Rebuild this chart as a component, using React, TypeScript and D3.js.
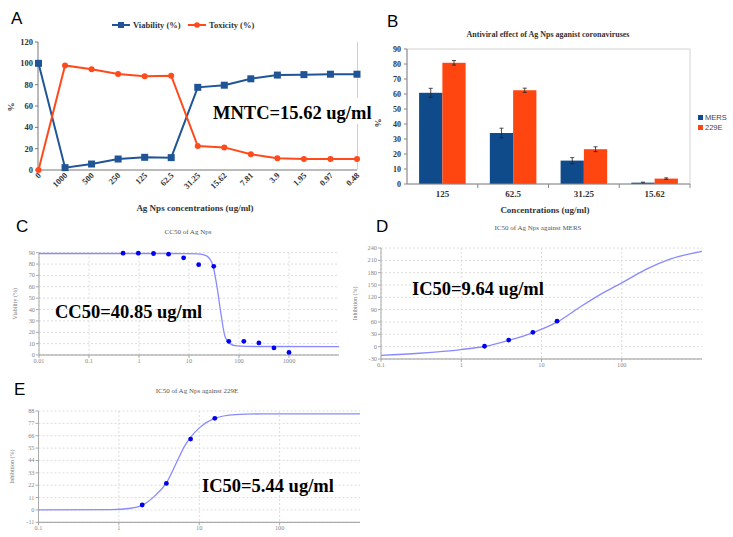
import * as d3 from "d3";
import React from "react";

// Panel A: cytotoxicity of Ag Nps
const concA = ["0", "1000", "500", "250", "125", "62.5", "31.25", "15.62", "7.81", "3.9", "1.95", "0.97", "0.48"];
const viability = [100, 2.2, 5.6, 10.3, 11.9, 11.6, 77.5, 79.5, 85.5, 89, 89.4, 89.8, 89.8];
const toxicity = [0, 98, 94.4, 90, 88, 88.4, 22.5, 21.2, 14.7, 11, 10.4, 10.3, 10.3];
const ticksA = [0, 20, 40, 60, 80, 100, 120];

// Panel B: antiviral effect
const catsB = ["125", "62.5", "31.25", "15.62"];
const seriesB = ["MERS", "229E"];
const mers = [60.8, 34, 15.6, 0.9];
const mersErr = [3, 3.2, 2, 0.3];
const hcov = [80.8, 62.5, 23.2, 3.6];
const hcovErr = [1.5, 1.4, 1.6, 0.5];
const ticksB = [0, 10, 20, 30, 40, 50, 60, 70, 80, 90];

// Panel C: CC50
const concC = [0.48, 0.97, 1.95, 3.9, 7.81, 15.62, 31.25, 62.5, 125, 250, 500, 1000];
const viabC = [89.6, 89.6, 89.3, 88.7, 85.5, 79.5, 78, 12, 12, 10.6, 6.2, 2.3];
const fitCx = [0.01, 1, 10, 15, 22, 26, 30, 36, 43, 52, 66, 90, 200, 10000];
const fitCy = [89.3, 89.3, 89.2, 89, 87.5, 84.5, 79, 61, 38, 17, 10, 8, 7.5, 7.4];
const ticksCy = [0, 10, 20, 30, 40, 50, 60, 70, 80, 90];
const ticksCx = [0.01, 0.1, 1, 10, 100, 1000];

// Panel D: IC50 against MERS
const concD = [1.95, 3.9, 7.81, 15.62];
const inhD = [1, 16, 35, 62];
const fitDx = [0.1, 0.3, 1, 2, 4, 8, 16, 30, 60, 100, 200, 400, 1000];
const fitDy = [-21, -16, -7, 1, 16, 35, 61, 96, 132, 155, 188, 213, 232];
const ticksDy = [-30, 0, 30, 60, 90, 120, 150, 180, 210, 240];
const ticksDx = [0.1, 1, 10, 100];

// Panel E: IC50 against 229E
const concE = [1.95, 3.9, 7.81, 15.62];
const inhE = [4.4, 23.6, 63, 81.5];
const fitEx = [0.1, 0.8, 1.4, 2, 2.8, 3.9, 5.2, 6.6, 7.8, 10, 15, 28, 60, 1000];
const fitEy = [0, 0.3, 1.5, 4.5, 12.5, 24, 42, 57, 64.5, 73, 81, 84.8, 85.4, 85.5];
const ticksEy = [-11, 0, 11, 22, 33, 44, 55, 66, 77, 88];
const ticksEx = [0.1, 1, 10, 100];

const serif = "'Liberation Serif', 'Times New Roman', serif";
const sans = "'Liberation Sans', Arial, sans-serif";
const blueA = "#1f5596";
const redA = "#ff4a1c";

const PanelA = () => {
  const x = d3.scalePoint<string>().domain(concA).range([38.5, 357]);
  const y = d3.scaleLinear().domain([0, 120]).range([170, 42]);
  const line = d3
    .line<number>()
    .x((_, i) => x(concA[i])!)
    .y((d) => y(d));
  return (
    <g>
      <text x={11} y={24} fontFamily={sans} fontSize={17}>A</text>
      {/* legend */}
      <line x1={112} x2={130} y1={25} y2={25} stroke={blueA} strokeWidth={2} />
      <rect x={118} y={22} width={6} height={6} fill={blueA} />
      <text x={133} y={28} fontFamily={serif} fontWeight="bold" fontSize={8.5} fill="#333">Viability (%)</text>
      <line x1={188} x2={206} y1={25} y2={25} stroke={redA} strokeWidth={2} />
      <circle cx={197} cy={25} r={2.8} fill={redA} />
      <text x={209} y={28} fontFamily={serif} fontWeight="bold" fontSize={8.5} fill="#333">Toxicity (%)</text>

      <line x1={357.5} x2={357.5} y1={42} y2={170} stroke="#d0d0d0" />
      {ticksA.map((t) => (
        <g key={t}>
          <line x1={35} x2={38} y1={y(t)} y2={y(t)} stroke="#777" />
          <text x={33} y={y(t) + 3} textAnchor="end" fontFamily={serif} fontWeight="bold" fontSize={8.5} fill="#333">{t}</text>
        </g>
      ))}
      <line x1={38} x2={38} y1={42} y2={170} stroke="#777" />
      <line x1={38} x2={357} y1={170} y2={170} stroke="#777" />
      {concA.map((c) => (
        <text key={c} transform={`translate(${x(c)! + 3},${176}) rotate(-45)`} textAnchor="end" fontFamily={serif} fontWeight="bold" fontSize={8.5} fill="#333">{c}</text>
      ))}
      <path d={line(viability)!} fill="none" stroke={blueA} strokeWidth={2} />
      <path d={line(toxicity)!} fill="none" stroke={redA} strokeWidth={2} />
      {viability.map((v, i) => (
        <rect key={i} x={x(concA[i])! - 3.5} y={y(v) - 3.5} width={7} height={7} fill={blueA} />
      ))}
      {toxicity.map((v, i) => (
        <circle key={i} cx={x(concA[i])!} cy={y(v)} r={3} fill={redA} />
      ))}
      <text x={195} y={211} textAnchor="middle" fontFamily={serif} fontWeight="bold" fontSize={9} fill="#333">Ag Nps concentrations (ug/ml)</text>
      <text transform="translate(14,107) rotate(-90)" textAnchor="middle" fontFamily={serif} fontWeight="bold" fontSize={9} fill="#333">%</text>
      <rect x={211} y={98} width={148} height={26} fill="#fff" />
      <text x={213} y={119} fontFamily={serif} fontWeight="bold" fontSize={18.5} fill="#000">MNTC=15.62 ug/ml</text>
    </g>
  );
};

const PanelB = () => {
  const x0 = d3.scaleBand<string>().domain(catsB).range([407, 690]);
  const x1 = d3.scaleBand<string>().domain(seriesB).range([0, x0.bandwidth()]).paddingOuter(0.52);
  const y = d3.scaleLinear().domain([0, 90]).range([184, 49]);
  const colors: Record<string, string> = { MERS: "#0f4a8a", "229E": "#ff4610" };
  const vals: Record<string, number[]> = { MERS: mers, "229E": hcov };
  const errs: Record<string, number[]> = { MERS: mersErr, "229E": hcovErr };
  return (
    <g>
      <text x={387} y={27} fontFamily={sans} fontSize={17}>B</text>
      <text x={548} y={37} textAnchor="middle" fontFamily={serif} fontWeight="bold" fontSize={8} fill="#333">Antiviral effect of Ag Nps aganist coronaviruses</text>
      <rect x={407} y={49} width={283} height={135} fill="none" stroke="#d4d4d4" />
      {ticksB.map((t) => (
        <g key={t}>
          <line x1={404} x2={407} y1={y(t)} y2={y(t)} stroke="#888" />
          <text x={401} y={y(t) + 3} textAnchor="end" fontFamily={serif} fontWeight="bold" fontSize={8} fill="#333">{t}</text>
        </g>
      ))}
      {seriesB.map((s) =>
        catsB.map((c, i) => {
          const bx = x0(c)! + x1(s)!;
          const v = vals[s][i];
          const e = errs[s][i];
          const cx = bx + x1.bandwidth() / 2;
          return (
            <g key={s + c}>
              <rect x={bx} y={y(v)} width={x1.bandwidth()} height={y(0) - y(v)} fill={colors[s]} />
              <line x1={cx} x2={cx} y1={y(v + e)} y2={y(v - e)} stroke="#222" strokeWidth={0.8} />
              <line x1={cx - 2} x2={cx + 2} y1={y(v + e)} y2={y(v + e)} stroke="#222" strokeWidth={0.8} />
              <line x1={cx - 2} x2={cx + 2} y1={y(v - e)} y2={y(v - e)} stroke="#222" strokeWidth={0.8} />
            </g>
          );
        })
      )}
      <line x1={407} x2={407} y1={49} y2={184} stroke="#888" />
      <line x1={407} x2={690} y1={184} y2={184} stroke="#888" />
      {catsB.map((c) => (
        <g key={c}>
          <line x1={x0(c)! + x0.bandwidth()} x2={x0(c)! + x0.bandwidth()} y1={184} y2={188} stroke="#888" />
          <text x={x0(c)! + x0.bandwidth() / 2} y={197} textAnchor="middle" fontFamily={serif} fontWeight="bold" fontSize={9} fill="#333">{c}</text>
        </g>
      ))}
      <text x={545} y={213} textAnchor="middle" fontFamily={serif} fontWeight="bold" fontSize={9} fill="#333">Concentrations (ug/ml)</text>
      <text transform="translate(381,123) rotate(-90)" textAnchor="middle" fontFamily={serif} fontWeight="bold" fontSize={9} fill="#333">%</text>
      {seriesB.map((s, i) => (
        <g key={s}>
          <rect x={698} y={115 + i * 10} width={5} height={5} fill={colors[s]} />
          <text x={705} y={120 + i * 10} fontFamily={sans} fontSize={7.5} fill="#444">{s}</text>
        </g>
      ))}
    </g>
  );
};

type LogProps = {
  label: string;
  labelX: number;
  labelY: number;
  title: string;
  titleX: number;
  titleY: number;
  yLabel: string;
  yLabelX: number;
  left: number;
  right: number;
  top: number;
  bottom: number;
  xDomain: [number, number];
  yDomain: [number, number];
  xTicks: number[];
  yTicks: number[];
  px: number[];
  py: number[];
  fx: number[];
  fy: number[];
  note: string;
  noteX: number;
  noteY: number;
};

const LogPanel = (p: LogProps) => {
  const x = d3.scaleLog().domain(p.xDomain).range([p.left, p.right]);
  const y = d3.scaleLinear().domain(p.yDomain).range([p.bottom, p.top]);
  const line = d3
    .line<number>()
    .x((_, i) => x(p.fx[i]))
    .y((d) => y(d))
    .curve(d3.curveMonotoneX);
  return (
    <g>
      <text x={p.labelX} y={p.labelY} fontFamily={sans} fontSize={17}>{p.label}</text>
      <text x={p.titleX} y={p.titleY} textAnchor="middle" fontFamily={serif} fontSize={7} fill="#555">{p.title}</text>
      {p.yTicks.map((t) => (
        <g key={t}>
          <line x1={p.left} x2={p.right} y1={y(t)} y2={y(t)} stroke="#dcdcdc" strokeDasharray="2 2" />
          <line x1={p.left - 3} x2={p.left} y1={y(t)} y2={y(t)} stroke="#aaa" />
          <text x={p.left - 4} y={y(t) + 2} textAnchor="end" fontFamily={serif} fontSize={6.3} fill="#888">{t}</text>
        </g>
      ))}
      {p.xTicks.map((t) => (
        <g key={t}>
          <line x1={x(t)} x2={x(t)} y1={p.top} y2={p.bottom} stroke="#dcdcdc" strokeDasharray="2 2" />
          <line x1={x(t)} x2={x(t)} y1={p.bottom} y2={p.bottom + 3} stroke="#aaa" />
          <text x={x(t)} y={p.bottom + 8} textAnchor="middle" fontFamily={serif} fontSize={6.3} fill="#888">{t}</text>
        </g>
      ))}
      <line x1={p.left} x2={p.left} y1={p.top} y2={p.bottom} stroke="#aaa" />
      <line x1={p.left} x2={p.right} y1={p.bottom} y2={p.bottom} stroke="#999" />
      <text transform={`translate(${p.yLabelX},${(p.top + p.bottom) / 2}) rotate(-90)`} textAnchor="middle" fontFamily={serif} fontSize={6} fill="#777">{p.yLabel}</text>
      <path d={line(p.fy)!} fill="none" stroke="#8a8aff" strokeWidth={1.3} />
      {p.py.map((v, i) => (
        <circle key={i} cx={x(p.px[i])} cy={y(v)} r={2.4} fill="#0000f0" />
      ))}
      <text x={p.noteX} y={p.noteY} fontFamily={serif} fontWeight="bold" fontSize={18.5} fill="#000">{p.note}</text>
    </g>
  );
};

export default function App() {
  return (
    <svg width={733} height={537} style={{ position: "absolute", left: 0, top: 0, background: "#fff" }}>
      <rect width={733} height={537} fill="#fff" />
      <PanelA />
      <PanelB />
      <LogPanel
        label="C" labelX={16} labelY={232}
        title="CC50 of Ag Nps" titleX={188} titleY={234}
        yLabel="Viability (%)" yLabelX={17}
        left={39} right={339} top={252.7} bottom={355}
        xDomain={[0.01, 10000]} yDomain={[0, 90]}
        xTicks={ticksCx} yTicks={ticksCy}
        px={concC} py={viabC} fx={fitCx} fy={fitCy}
        note="CC50=40.85 ug/ml" noteX={55} noteY={318}
      />
      <LogPanel
        label="D" labelX={376} labelY={232}
        title="IC50 of Ag Nps against MERS" titleX={538} titleY={230}
        yLabel="Inhibition (%)" yLabelX={357}
        left={381} right={702} top={248} bottom={359}
        xDomain={[0.1, 1000]} yDomain={[-30, 240]}
        xTicks={ticksDx} yTicks={ticksDy}
        px={concD} py={inhD} fx={fitDx} fy={fitDy}
        note="IC50=9.64 ug/ml" noteX={412} noteY={295}
      />
      <LogPanel
        label="E" labelX={14} labelY={395}
        title="IC50 of Ag Nps against 229E" titleX={197} titleY={393}
        yLabel="Inhibition (%)" yLabelX={14}
        left={38.5} right={360} top={411} bottom={522.3}
        xDomain={[0.1, 1000]} yDomain={[-11, 88]}
        xTicks={ticksEx} yTicks={ticksEy}
        px={concE} py={inhE} fx={fitEx} fy={fitEy}
        note="IC50=5.44 ug/ml" noteX={202} noteY={492}
      />
    </svg>
  );
}
